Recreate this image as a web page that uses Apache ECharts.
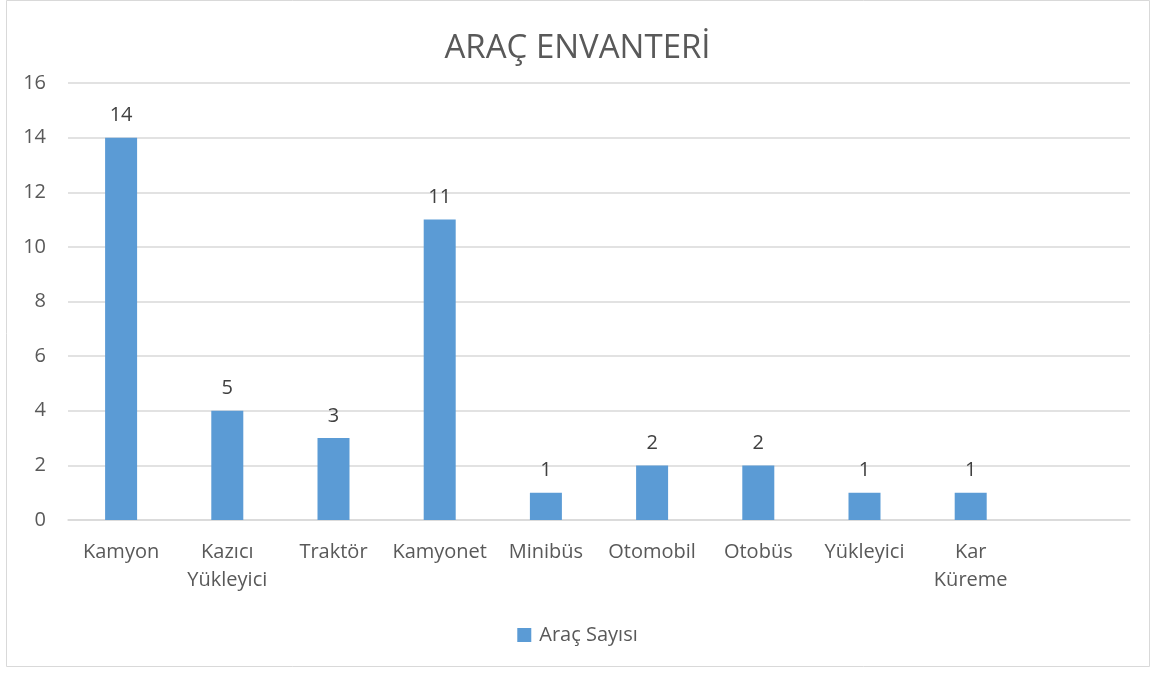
<!DOCTYPE html>
<html>
<head>
<meta charset="utf-8">
<script src="https://cdn.jsdelivr.net/npm/echarts@6/dist/echarts.min.js"></script>
<style>
html,body{margin:0;padding:0;background:#fff;}
#c{width:1155px;height:675px;}
</style>
</head>
<body>
<div id="c"></div>
<script>
const title = 'ARAÇ ENVANTERİ';
const seriesName = 'Araç Sayısı';
const categories = ['Kamyon', 'Kazıcı\nYükleyici', 'Traktör', 'Kamyonet', 'Minibüs', 'Otomobil', 'Otobüs', 'Yükleyici', 'Kar\nKüreme', ''];
const values = [14, 4, 3, 11, 1, 2, 2, 1, 1, null];
const valueLabels = ['14', '5', '3', '11', '1', '2', '2', '1', '1', ''];
const yTicks = [0, 2, 4, 6, 8, 10, 12, 14, 16];

const FONT = 'Open Sans';
const TXT = '#595959';
const chart = echarts.init(document.getElementById('c'), null, {renderer: 'canvas'});
chart.setOption({
  animation: false,
  backgroundColor: '#fff',
  textStyle: {fontFamily: FONT},
  title: {
    text: title, left: 'center', top: 27,
    textStyle: {fontFamily: FONT, fontSize: 33, fontWeight: 'normal', color: TXT}
  },
  legend: {
    data: [seriesName], bottom: 25, left: 'center',
    icon: 'rect', itemWidth: 14, itemHeight: 14, itemGap: 10,
    textStyle: {fontFamily: FONT, fontSize: 20, color: TXT, padding: [0, 0, 0, 3]}
  },
  graphic: [{
    type: 'rect', shape: {x: 6.5, y: 0.5, width: 1143, height: 666},
    style: {fill: 'none', stroke: '#d9d9d9', lineWidth: 1}, silent: true
  }],
  grid: {left: 68, right: 25, top: 83, bottom: 155},
  xAxis: {
    type: 'category', data: categories,
    axisLine: {show: true, lineStyle: {color: '#d9d9d9', width: 1.5}},
    axisTick: {show: false},
    axisLabel: {interval: 0, fontFamily: FONT, fontSize: 20, color: TXT, margin: 18, lineHeight: 28}
  },
  yAxis: {
    type: 'value', min: 0, max: 16, interval: 2,
    axisLine: {show: false}, axisTick: {show: false},
    splitLine: {lineStyle: {color: '#d9d9d9', width: 1.5}},
    axisLabel: {fontFamily: FONT, fontSize: 20, color: TXT, margin: 22,
      formatter: v => yTicks.includes(v) ? String(v) : ''}
  },
  series: [{
    name: seriesName, type: 'bar', data: values, barWidth: 32,
    itemStyle: {color: '#5b9bd5'},
    label: {
      show: true, position: 'top', distance: 12,
      fontFamily: FONT, fontSize: 20, color: '#404040',
      formatter: p => valueLabels[p.dataIndex]
    }
  }]
});
</script>
</body>
</html>
